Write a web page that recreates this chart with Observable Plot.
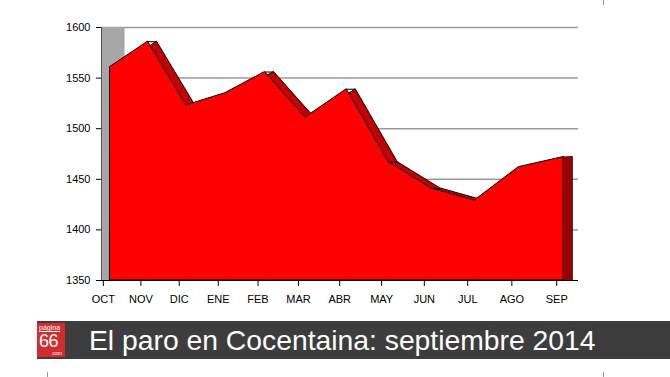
<!DOCTYPE html>
<html>
<head>
<meta charset="utf-8">
<script src="https://cdn.jsdelivr.net/npm/d3@7"></script>
<script src="https://cdn.jsdelivr.net/npm/@observablehq/plot@0.6"></script>
<style>
  html, body { margin: 0; padding: 0; background: #fff; }
  #wrap { position: relative; width: 670px; height: 377px; overflow: hidden; font-family: 'Liberation Sans', Arial, sans-serif; }
  #chart { position: absolute; left: 0; top: 0; }
  #bar { position: absolute; left: 37px; top: 321px; width: 640px; height: 38px; background: #3d3d3d; }
  #logo { position: absolute; left: 37px; top: 323px; width: 28px; height: 34px; background: #d52a2e; color: #fff; }
  #logo .p { position: absolute; left: 2px; top: 1px; font-size: 7px; line-height: 7px; text-decoration: underline; }
  #logo .n { position: absolute; left: 2px; top: 9px; font-size: 18px; line-height: 18px; letter-spacing: -0.5px; }
  #logo .c { position: absolute; right: 3px; top: 28px; font-size: 5px; line-height: 5px; }
  #title { position: absolute; left: 89px; top: 323px; color: #fff; font-size: 28.3px; line-height: 34px; white-space: nowrap; }
  .mk { position: absolute; width: 1px; background: #999; }
</style>
</head>
<body>
<div id="wrap">
  <div id="chart"></div>
  <div id="bar"></div>
  <div id="logo"><span class="p">página</span><span class="n">66</span><span class="c">.com</span></div>
  <div id="title"></div>
  <div class="mk" style="left:47px; top:372px; height:5px;"></div>
  <div class="mk" style="left:603px; top:372px; height:5px;"></div>
  <div class="mk" style="left:603px; top:0px; height:5px;"></div>
</div>
<script>
const months = ["OCT","NOV","DIC","ENE","FEB","MAR","ABR","MAY","JUN","JUL","AGO","SEP"];
const paro = [1561, 1586, 1523, 1535, 1556, 1511, 1539, 1467, 1441, 1429, 1462, 1472];
const yTicks = [1350, 1400, 1450, 1500, 1550, 1600];
const title = "El paro en Cocentaina: septiembre 2014";

// perspective offset: a pow scale on shifted month index mimics the 3D widening
const persp = 51;
const data = months.map((m, i) => ({m, x: i + persp, v: paro[i]}));
const xDomain = [persp - 0.05, persp + 11.48];
const yDomain = [yTicks[0], yTicks[yTicks.length - 1]];
const last = data[data.length - 1];

const chart = Plot.plot({
  width: 670,
  height: 316,
  marginLeft: 101,
  marginRight: 92,
  marginTop: 27,
  marginBottom: 36,
  x: {type: "pow", exponent: 2, domain: xDomain},
  y: {domain: yDomain},
  style: {fontFamily: "'Liberation Sans', Arial, sans-serif", fontSize: "11px", color: "#000", background: "transparent"},
  marks: [
    Plot.ruleY(yTicks.slice(1), {stroke: "#9a9a9a", strokeWidth: 1.5}),
    Plot.rect([0], {x1: xDomain[0], x2: persp + 0.58, y1: yDomain[0], y2: yDomain[1], fill: "#a6a6a6"}),
    Plot.areaY(data, {x: "x", y1: yDomain[0], y2: "v", dx: 16, fill: "#c40000", stroke: "#000", strokeWidth: 1}),
    Plot.ruleY(data, {y: "v", x1: "x", x2: "x", dx: 16, insetLeft: -9, stroke: "#000", strokeWidth: 1}),
    Plot.ruleX([last], {x: "x", y1: yDomain[0], y2: "v", dx: 11.5, stroke: "#990000", strokeWidth: 8}),
    Plot.areaY(data, {x: "x", y1: yDomain[0], y2: "v", dx: 7, fill: "#ff0000", stroke: "#000", strokeWidth: 1}),
    Plot.ruleX([xDomain[0]], {stroke: "#555"}),
    Plot.ruleY([yDomain[0]], {stroke: "#000"}),
    Plot.axisX({ticks: data.map(d => d.x), tickFormat: v => months[Math.round(v - persp)], tickSize: 6, tickPadding: 9, label: null}),
    Plot.axisY({ticks: yTicks, tickFormat: d => String(d), tickSize: 5, tickPadding: 6, label: null})
  ]
});
document.getElementById("chart").append(chart);
document.getElementById("title").textContent = title;
</script>
</body>
</html>
